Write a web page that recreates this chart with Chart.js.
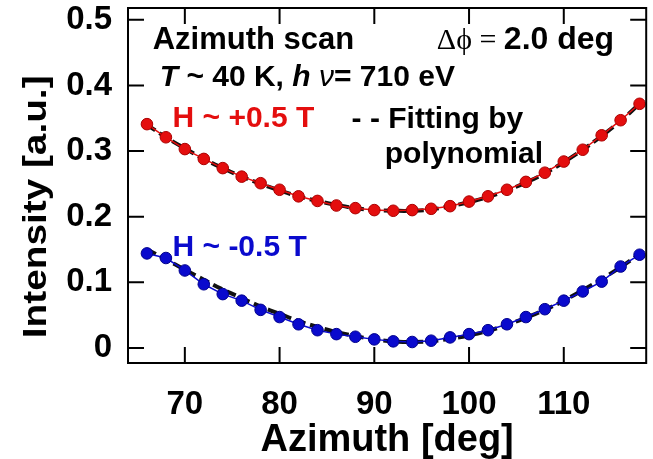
<!DOCTYPE html>
<html lang="en">
<head>
<meta charset="UTF-8">
<title>Azimuth scan</title>
<script src="https://cdn.jsdelivr.net/npm/chart.js@4.4.0/dist/chart.umd.min.js"></script>
<style>
  body { margin: 0; background: #fff; }
  #wrap { width: 653px; height: 459px; }
</style>
</head>
<body>
<div id="wrap"><canvas id="scan"></canvas></div>
<script>
// azimuth angles, step 2 deg
const azimuth = [66, 68, 70, 72, 74, 76, 78, 80, 82, 84, 86, 88, 90, 92, 94, 96, 98, 100, 102, 104, 106, 108, 110, 112, 114, 116, 118];

// measured intensity, H ~ +0.5 T and H ~ -0.5 T
const plusH  = [0.341, 0.321, 0.303, 0.288, 0.274, 0.261, 0.251, 0.241, 0.231, 0.224, 0.217, 0.213, 0.210, 0.209, 0.210, 0.212, 0.216, 0.223, 0.231, 0.241, 0.253, 0.267, 0.284, 0.302, 0.324, 0.347, 0.372];
const minusH = [0.144, 0.137, 0.118, 0.097, 0.082, 0.072, 0.058, 0.047, 0.036, 0.027, 0.021, 0.017, 0.013, 0.010, 0.009, 0.011, 0.016, 0.021, 0.027, 0.036, 0.047, 0.059, 0.072, 0.086, 0.101, 0.124, 0.142];

// polynomial fits
const fitPlus  = [0.340, 0.321, 0.304, 0.288, 0.274, 0.261, 0.250, 0.240, 0.231, 0.224, 0.218, 0.213, 0.210, 0.209, 0.209, 0.211, 0.216, 0.222, 0.230, 0.240, 0.252, 0.266, 0.283, 0.302, 0.323, 0.346, 0.372];
const fitMinus = [0.150, 0.135, 0.119, 0.104, 0.089, 0.076, 0.063, 0.052, 0.041, 0.032, 0.024, 0.018, 0.013, 0.010, 0.009, 0.010, 0.014, 0.019, 0.026, 0.035, 0.046, 0.058, 0.072, 0.088, 0.105, 0.123, 0.143];

const xTickStep = 10;
const yTickStep = 0.1;

const RED = 'rgb(228,14,14)';
const BLUE = 'rgb(10,10,205)';
const SANS = '"Liberation Sans", Arial, sans-serif';

const pts = ys => azimuth.map((a, i) => ({ x: a, y: ys[i] }));

// frame + inward ticks on all four sides
const frameTicks = {
  id: 'frameTicks',
  afterDatasetsDraw(chart) {
    const { ctx, chartArea: { left, right, top, bottom }, scales: { x, y } } = chart;
    const len = 16;
    ctx.save();
    ctx.strokeStyle = '#000';
    ctx.lineWidth = 2;
    ctx.beginPath();
    x.ticks.forEach(t => {
      const px = x.getPixelForValue(t.value);
      ctx.moveTo(px, bottom); ctx.lineTo(px, bottom - len);
      ctx.moveTo(px, top); ctx.lineTo(px, top + len);
    });
    y.ticks.forEach(t => {
      const py = y.getPixelForValue(t.value);
      ctx.moveTo(left, py); ctx.lineTo(left + len, py);
      ctx.moveTo(right, py); ctx.lineTo(right - len, py);
    });
    ctx.stroke();
    ctx.strokeRect(left, top, right - left, bottom - top);
    ctx.restore();
  }
};

// text notes, anchored in data coordinates
const notes = {
  id: 'notes',
  afterDraw(chart) {
    const { ctx, scales: { x, y } } = chart;
    ctx.save();
    ctx.textBaseline = 'alphabetic';
    ctx.textAlign = 'left';

    function runs(xv, yv, parts) {
      let px = x.getPixelForValue(xv);
      const py = y.getPixelForValue(yv);
      parts.forEach(p => {
        ctx.font = p.font;
        ctx.fillStyle = p.color || '#000';
        ctx.fillText(p.text, px, py);
        px += ctx.measureText(p.text).width;
      });
    }

    const B = 'bold 30px ' + SANS;
    const BI = 'italic bold 30px ' + SANS;

    runs(66.6, 0.4555, [{ text: 'Azimuth scan', font: 'bold 31px ' + SANS }]);
    runs(67.35, 0.399, [
      { text: 'T', font: BI },
      { text: ' ~ 40 K, ', font: B },
      { text: 'h', font: BI },
      { text: ' \u03BD', font: 'italic 30px ' + SANS },
      { text: '= 710 eV', font: B }
    ]);
    runs(96.6, 0.4555, [
      { text: '\u0394\u03D5 = ', font: '30px "Liberation Serif", serif' },
      { text: '2.0 deg', font: 'bold 32px ' + SANS }
    ]);
    runs(68.7, 0.3367, [{ text: 'H ~ +0.5 T', font: B, color: RED }]);
    runs(87.6, 0.3353, [{ text: '- - Fitting by', font: B }]);
    runs(91.1, 0.282, [{ text: 'polynomial', font: B }]);
    runs(68.7, 0.1402, [{ text: 'H ~ -0.5 T', font: B, color: BLUE }]);

    // y axis title, a little stretched along its length like the original
    ctx.translate(37, y.getPixelForValue(0.215));
    ctx.rotate(-Math.PI / 2);
    ctx.scale(1.14, 1);
    ctx.font = 'bold 34px ' + SANS;
    ctx.fillStyle = '#000';
    ctx.textAlign = 'center';
    ctx.textBaseline = 'middle';
    ctx.fillText('Intensity [a.u.]', 0, 0);
    ctx.restore();
  }
};

const tickFont = { family: SANS, size: 33, weight: 'bold' };

new Chart(document.getElementById('scan'), {
  type: 'line',
  data: {
    datasets: [
      {
        label: 'H ~ +0.5 T',
        data: pts(plusH),
        borderColor: RED,
        borderWidth: 1.5,
        pointRadius: 5.8,
        pointBackgroundColor: RED,
        pointBorderColor: 'rgb(170,0,0)',
        pointBorderWidth: 1
      },
      {
        label: 'H ~ -0.5 T',
        data: pts(minusH),
        borderColor: BLUE,
        borderWidth: 1.5,
        pointRadius: 5.8,
        pointBackgroundColor: BLUE,
        pointBorderColor: 'rgb(0,0,140)',
        pointBorderWidth: 1
      },
      {
        label: 'fit +',
        data: pts(fitPlus),
        borderColor: '#111',
        borderWidth: 4,
        borderDash: [10, 5],
        pointRadius: 0,
        tension: 0.4
      },
      {
        label: 'fit -',
        data: pts(fitMinus),
        borderColor: '#111',
        borderWidth: 4,
        borderDash: [10, 5],
        pointRadius: 0,
        tension: 0.4
      }
    ]
  },
  options: {
    responsive: true,
    maintainAspectRatio: false,
    animation: false,
    clip: false,
    layout: { padding: { left: 0, top: 8, right: 3, bottom: 0 } },
    plugins: {
      legend: { display: false },
      tooltip: { enabled: false }
    },
    scales: {
      x: {
        type: 'linear',
        min: 64,
        max: 118.7,
        grid: { display: false },
        border: { display: false },
        ticks: {
          stepSize: xTickStep,
          includeBounds: false,
          maxRotation: 0,
          color: '#000',
          font: tickFont,
          padding: 14
        },
        title: {
          display: true,
          text: 'Azimuth [deg]',
          color: '#000',
          font: { family: SANS, size: 38, weight: 'bold' },
          padding: { top: 0, bottom: -4 }
        },
        afterFit(s) { s.height = 96; s.paddingLeft = 0; s.paddingRight = 0; }
      },
      y: {
        type: 'linear',
        min: -0.023,
        max: 0.518,
        grid: { display: false },
        border: { display: false },
        ticks: {
          stepSize: yTickStep,
          includeBounds: false,
          color: '#000',
          font: tickFont,
          padding: 8,
          callback: v => Math.abs(v) < 1e-9 ? '0' : v.toFixed(1)
        },
        afterFit(s) { s.width = 128; s.paddingTop = 0; s.paddingBottom = 0; }
      }
    }
  },
  plugins: [frameTicks, notes]
});
</script>
</body>
</html>
